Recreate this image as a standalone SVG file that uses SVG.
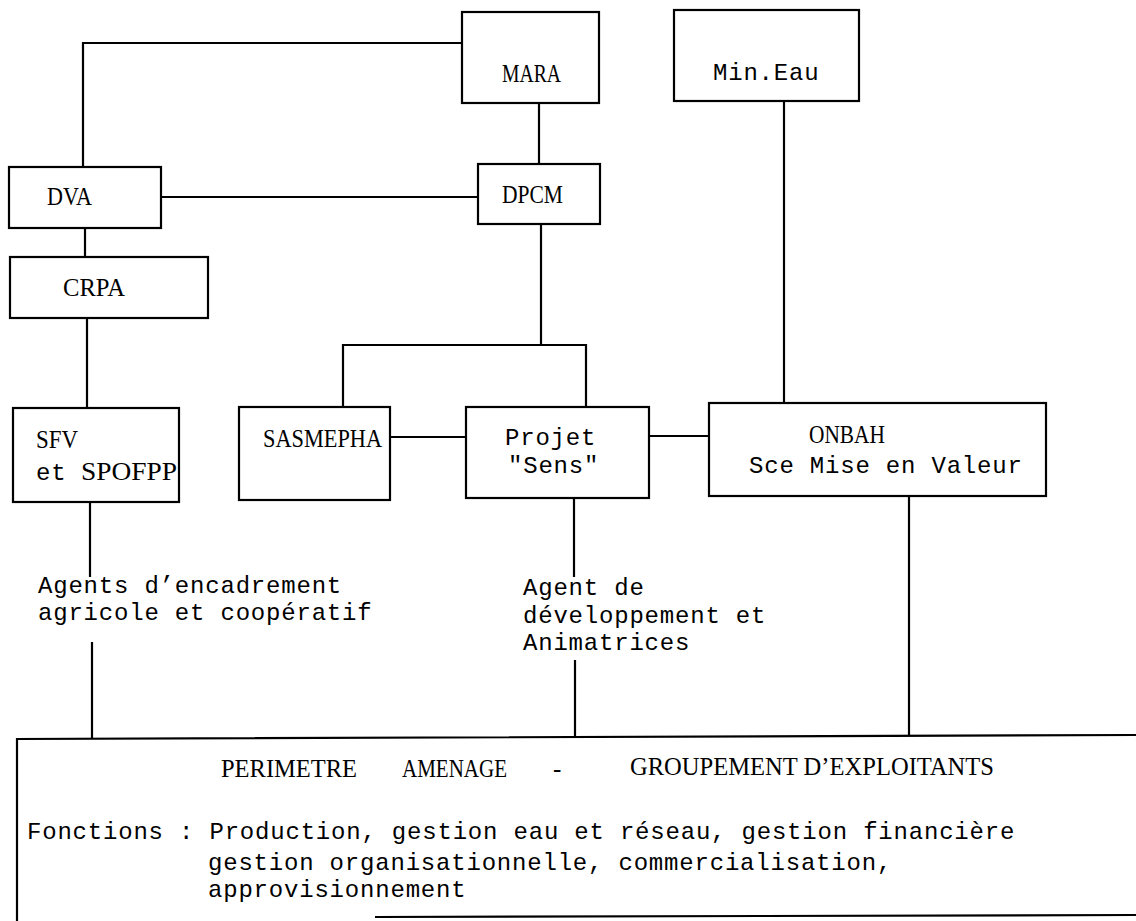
<svg xmlns="http://www.w3.org/2000/svg" width="1136" height="921" viewBox="0 0 1136 921">
<style>
.box{fill:#fff;stroke:#000;stroke-width:2.2}
.ln{fill:none;stroke:#000;stroke-width:2.2}
.cap{font-family:"Liberation Serif","Times New Roman",serif;font-size:25px;fill:#000}
.mono{font-family:"Liberation Mono","Courier New",monospace;font-size:24px;letter-spacing:0.8px;fill:#000}
</style>
<rect width="1136" height="921" fill="#fff"/>
<g id="connectors">
<path class="ln" d="M462,43 H83 V167"/>
<path class="ln" d="M161,197 H478"/>
<path class="ln" d="M539,103 V164"/>
<path class="ln" d="M85,228 V257"/>
<path class="ln" d="M87,318 V408"/>
<path class="ln" d="M541,224 V345"/>
<path class="ln" d="M343,407 V345 H586 V407"/>
<path class="ln" d="M390,437 H466"/>
<path class="ln" d="M649,436 H709"/>
<path class="ln" d="M784,101 V403"/>
<path class="ln" d="M90,502 V577"/>
<path class="ln" d="M92,642 V738"/>
<path class="ln" d="M574,498 V577"/>
<path class="ln" d="M575,660 V737"/>
<path class="ln" d="M909,496 V736"/>
</g>
<g id="node-mara">
<rect class="box" x="462" y="12" width="137" height="91"/>
<text class="cap" x="502" y="82" textLength="59" lengthAdjust="spacingAndGlyphs">MARA</text>
</g>
<g id="node-mineau">
<rect class="box" x="674" y="10" width="185" height="91"/>
<text class="mono" x="713" y="80">Min.Eau</text>
</g>
<g id="node-dva">
<rect class="box" x="9" y="167" width="152" height="61"/>
<text class="cap" x="47" y="205" textLength="45" lengthAdjust="spacingAndGlyphs">DVA</text>
</g>
<g id="node-dpcm">
<rect class="box" x="478" y="164" width="122" height="60"/>
<text class="cap" x="502" y="203" textLength="61" lengthAdjust="spacingAndGlyphs">DPCM</text>
</g>
<g id="node-crpa">
<rect class="box" x="10" y="257" width="198" height="61"/>
<text class="cap" x="63" y="296" textLength="62" lengthAdjust="spacingAndGlyphs">CRPA</text>
</g>
<g id="node-sfv">
<rect class="box" x="13" y="408" width="166" height="94"/>
<text class="cap" x="36" y="448" textLength="42" lengthAdjust="spacingAndGlyphs">SFV</text>
<text class="mono" x="36" y="480">et</text>
<text class="cap" x="81" y="480" textLength="96" lengthAdjust="spacingAndGlyphs">SPOFPP</text>
</g>
<g id="node-sasmepha">
<rect class="box" x="239" y="407" width="151" height="93"/>
<text class="cap" x="263" y="447" textLength="119" lengthAdjust="spacingAndGlyphs">SASMEPHA</text>
</g>
<g id="node-projet">
<rect class="box" x="466" y="407" width="183" height="91"/>
<text class="mono" x="505" y="445">Projet</text>
<text class="mono" x="508" y="473">"Sens"</text>
</g>
<g id="node-onbah">
<rect class="box" x="709" y="403" width="337" height="93"/>
<text class="cap" x="809" y="443" textLength="76" lengthAdjust="spacingAndGlyphs">ONBAH</text>
<text class="mono" x="749" y="473">Sce Mise en Valeur</text>
</g>
<g id="label-agents">
<text class="mono" x="38" y="593">Agents d’encadrement</text>
<text class="mono" x="38" y="620">agricole et coopératif</text>
</g>
<g id="label-agent-dev">
<text class="mono" x="523" y="595">Agent de</text>
<text class="mono" x="523" y="623">développement et</text>
<text class="mono" x="523" y="650">Animatrices</text>
</g>
<g id="node-perimetre">
<path class="ln" d="M1136,735 L17,739 V921"/>
<path class="ln" d="M375,917 L1136,915"/>
<text class="cap" x="221" y="777" textLength="136" lengthAdjust="spacingAndGlyphs">PERIMETRE</text>
<text class="cap" x="402" y="777" textLength="105" lengthAdjust="spacingAndGlyphs">AMENAGE</text>
<text class="cap" x="553" y="777">-</text>
<text class="cap" x="630" y="775" textLength="364" lengthAdjust="spacingAndGlyphs">GROUPEMENT D’EXPLOITANTS</text>
<text class="mono" x="27" y="839">Fonctions : Production, gestion eau et réseau, gestion financière</text>
<text class="mono" x="208" y="870">gestion organisationnelle, commercialisation,</text>
<text class="mono" x="208" y="897">approvisionnement</text>
</g>
</svg>
